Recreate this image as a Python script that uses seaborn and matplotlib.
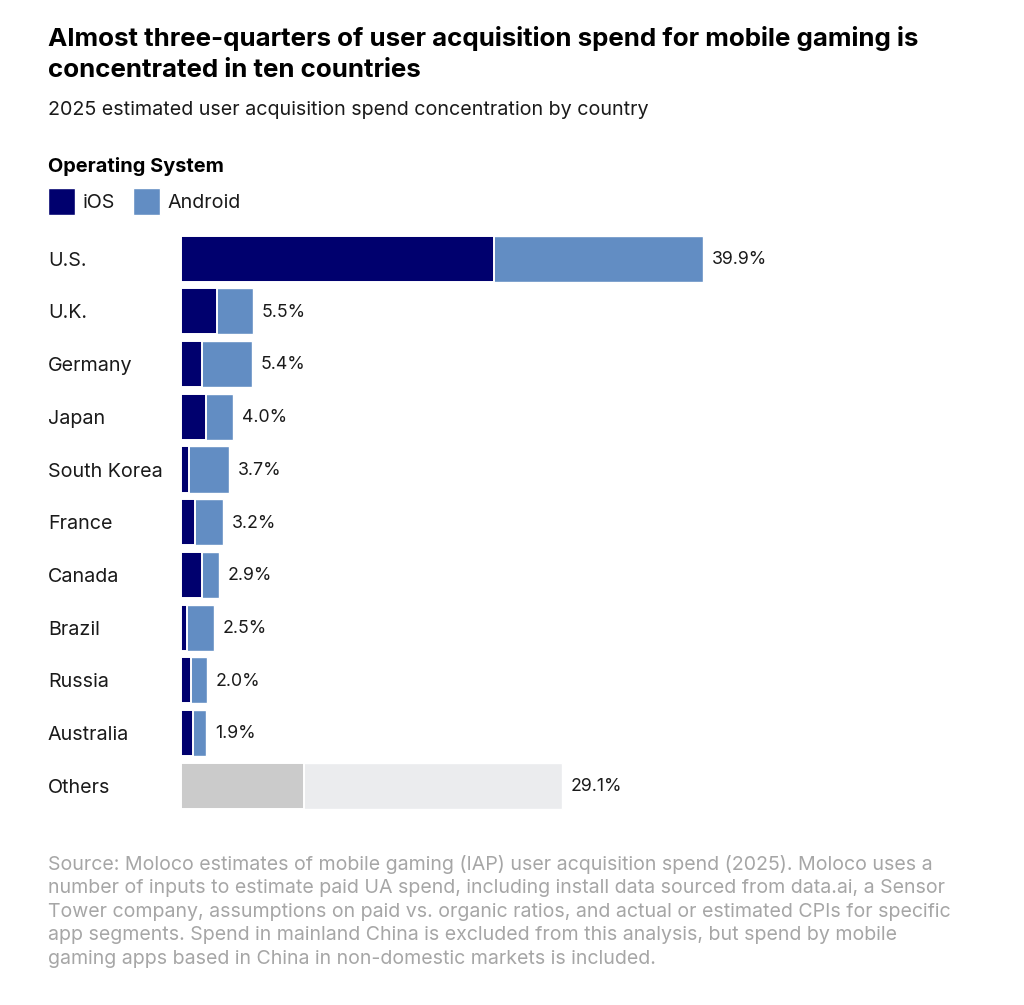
import matplotlib
matplotlib.use("Agg")
import matplotlib.pyplot as plt
from matplotlib.patches import Patch
import pandas as pd
import seaborn as sns

countries = ["U.S.", "U.K.", "Germany", "Japan", "South Korea", "France", "Canada", "Brazil", "Russia", "Australia", "Others"]
totals = [39.9, 5.5, 5.4, 4.0, 3.7, 3.2, 2.9, 2.5, 2.0, 1.9, 29.1]
ios = [23.9, 2.8, 1.6, 1.9, 0.6, 1.1, 1.6, 0.5, 0.8, 0.9, 9.4]
total_labels = ["39.9%", "5.5%", "5.4%", "4.0%", "3.7%", "3.2%", "2.9%", "2.5%", "2.0%", "1.9%", "29.1%"]

IOS_C, AND_C = "#00006e", "#628dc3"
OTH_D, OTH_L = "#cbcbcb", "#ebecee"
INK = "#1a1a1a"
FONT = "Inter"

sns.set_theme(style="white")
plt.rcParams["font.family"] = [FONT, "DejaVu Sans"]

W, H = 1024, 1005
fig = plt.figure(figsize=(W / 100, H / 100), dpi=100, facecolor="white")
row = 52.7
top, bottom = 258.7 - row / 2, 785.7 + row / 2
px = 522.5 / 39.9
xmax = 60
ax = fig.add_axes([180.8 / W, 1 - bottom / H, xmax * px / W, (bottom - top) / H])

df = pd.DataFrame({"country": countries, "total": totals, "ios": ios})
pal_back = {c: (OTH_L if c == "Others" else AND_C) for c in countries}
pal_front = {c: (OTH_D if c == "Others" else IOS_C) for c in countries}
sns.barplot(data=df, y="country", x="total", hue="country", palette=pal_back, dodge=False,
            legend=False, width=0.875, edgecolor="white", linewidth=1.0, saturation=1, ax=ax)
sns.barplot(data=df, y="country", x="ios", hue="country", palette=pal_front, dodge=False,
            legend=False, width=0.875, edgecolor="white", linewidth=1.4, saturation=1, ax=ax)

ax.set_xlim(0, xmax)
ax.set_ylim(10.5, -0.5)
ax.set_xlabel("")
ax.set_ylabel("")
ax.set_xticks([])
ax.set_yticks(range(len(countries)))
ax.set_yticklabels(countries, fontsize=14.2, color=INK, ha="left", va="center_baseline")
ax.tick_params(axis="y", length=0, pad=95.7)
sns.despine(ax=ax, left=True, bottom=True)
ax.patch.set_alpha(0)

for i, (t, lab) in enumerate(zip(totals, total_labels)):
    ax.annotate(lab, xy=(t, i), xytext=(6.5, -0.6), textcoords="offset points", va="center", ha="left",
                fontsize=12.8, color=INK)

def T(x, y, s, **kw):
    fig.text(x / W, 1 - y / H, s, va="center", ha="left", **kw)

T(48, 38.5, "Almost three-quarters of user acquisition spend for mobile gaming is", fontsize=18.65, fontweight="bold", color="black")
T(48, 70.5, "concentrated in ten countries", fontsize=18.65, fontweight="bold", color="black")
T(48, 110, "2025 estimated user acquisition spend concentration by country", fontsize=14.2, color=INK)
T(48, 166, "Operating System", fontsize=14.4, fontweight="bold", color="black")

leg = fig.legend(handles=[Patch(facecolor=IOS_C, label="iOS"), Patch(facecolor=AND_C, label="Android")],
                 loc="upper left", bbox_to_anchor=(48 / W, 1 - 188 / H), ncols=2, frameon=False,
                 fontsize=14.2, labelcolor=INK, handlelength=1.37, handleheight=1.7, handletextpad=0.38,
                 columnspacing=0.9, borderpad=0, borderaxespad=0)

source = ["Source: Moloco estimates of mobile gaming (IAP) user acquisition spend (2025). Moloco uses a",
          "number of inputs to estimate paid UA spend, including install data sourced from data.ai, a Sensor",
          "Tower company, assumptions on paid vs. organic ratios, and actual or estimated CPIs for specific",
          "app segments. Spend in mainland China is excluded from this analysis, but spend by mobile",
          "gaming apps based in China in non-domestic markets is included."]
for i, line in enumerate(source):
    T(48, 864 + i * 23.8, line, fontsize=14.1, color="#a6a6a6")

fig.savefig("out.png", dpi=100, facecolor="white")
